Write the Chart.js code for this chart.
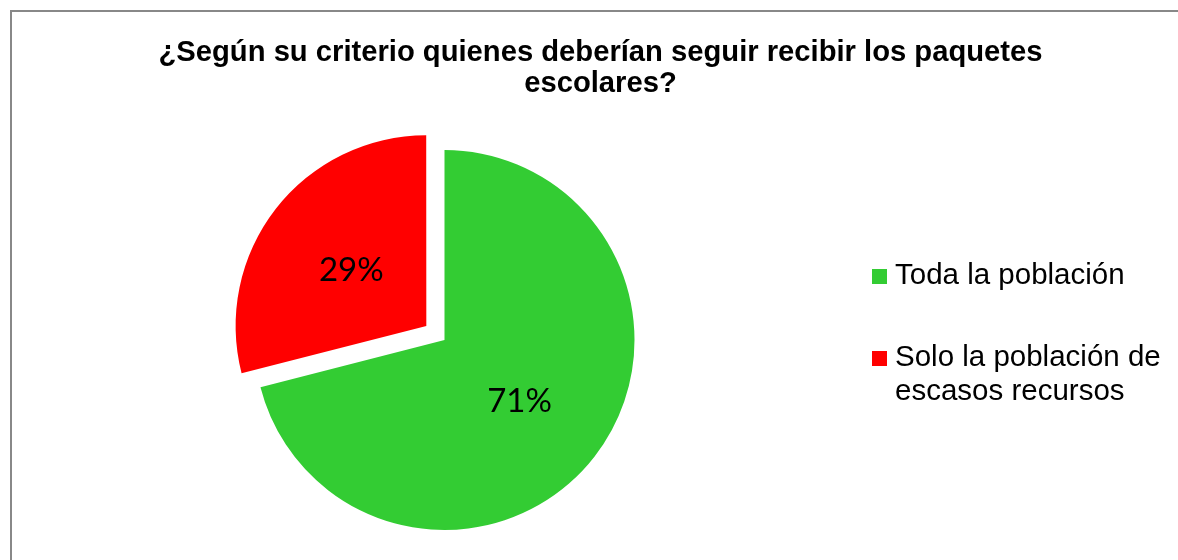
<!DOCTYPE html>
<html>
<head>
<meta charset="utf-8">
<script src="https://cdn.jsdelivr.net/npm/chart.js@4.4.0/dist/chart.umd.min.js"></script>
<style>
    body { margin: 0; background: #fff; }
    #wrap { position: relative; width: 1178px; height: 560px; overflow: hidden; }
    #frame { position: absolute; left: 10px; top: 10px; width: 1300px; height: 700px; border: 2px solid #888; }
    #title { position: absolute; left: 100px; top: 36px; width: 1001px; text-align: center;
             font: bold 29.2px/31px "Liberation Sans", Arial, sans-serif; color: #000; }
    #legend { position: absolute; left: 872px; top: 0; width: 300px;
              font: 29.5px/34px "Liberation Sans", Arial, sans-serif; color: #000; }
    .item { position: absolute; left: 0; }
    .item .box { position: absolute; left: 0; width: 15px; height: 15px; }
    .item .txt { position: absolute; left: 23px; top: 0; width: 280px; }
    canvas { position: absolute; left: 0; top: 0; }
</style>
</head>
<body>
<div id="wrap">
    <div id="frame"></div>
    <canvas id="pieChart" width="1178" height="560"></canvas>
    <div id="title">¿Según su criterio quienes deberían seguir recibir los paquetes escolares?</div>
    <div id="legend"></div>
</div>
<script>
// data
var labels = ['Toda la población', 'Solo la población de escasos recursos'];
var percents = [71, 29];
var colors = ['#33CC33', '#FF0000'];

// percent labels drawn on each slice
var sliceLabels = {
    id: 'sliceLabels',
    afterDatasetsDraw: function (chart) {
        var ctx = chart.ctx;
        var meta = chart.getDatasetMeta(0);
        ctx.save();
        ctx.font = '33px Lato, "Open Sans", sans-serif';
        ctx.fillStyle = '#000';
        ctx.textAlign = 'center';
        ctx.textBaseline = 'middle';
        meta.data.forEach(function (arc, i) {
            var p = arc.getProps(['x', 'y', 'startAngle', 'endAngle', 'outerRadius']);
            var half = (p.startAngle + p.endAngle) / 2;
            var shift = (arc.options.offset || 0) / 4;
            var d = shift + p.outerRadius * 0.5;
            // +3 so the digits sit where the reference has them
            ctx.fillText(percents[i] + '%', p.x + Math.cos(half) * d, p.y + Math.sin(half) * d + 3);
        });
        ctx.restore();
    }
};

var ctxPie = document.getElementById('pieChart').getContext('2d');
var pieChart = new Chart(ctxPie, {
    type: 'pie',
    data: {
        labels: labels,
        datasets: [{
            data: percents,
            backgroundColor: colors,
            borderWidth: 0,
            offset: [0, 92],
            hoverOffset: 0
        }]
    },
    options: {
        responsive: false,
        animation: false,
        events: [],
        radius: 190,
        layout: { padding: { left: 225, right: 514, top: 130, bottom: 10 } },
        plugins: {
            legend: { display: false },
            title: { display: false },
            tooltip: { enabled: false }
        }
    },
    plugins: [sliceLabels]
});

// legend built from the chart's own labels and colours
var tops = [257, 339];
var html = '';
pieChart.data.labels.forEach(function (lab, i) {
    html += '<div class="item" style="top:' + tops[i] + 'px">';
    html += '   <div class="box" style="top:12px;background:' + pieChart.data.datasets[0].backgroundColor[i] + '"></div>';
    html += '   <div class="txt">' + lab + '</div>';
    html += '</div>';
});
document.getElementById('legend').innerHTML = html;
</script>
</body>
</html>
